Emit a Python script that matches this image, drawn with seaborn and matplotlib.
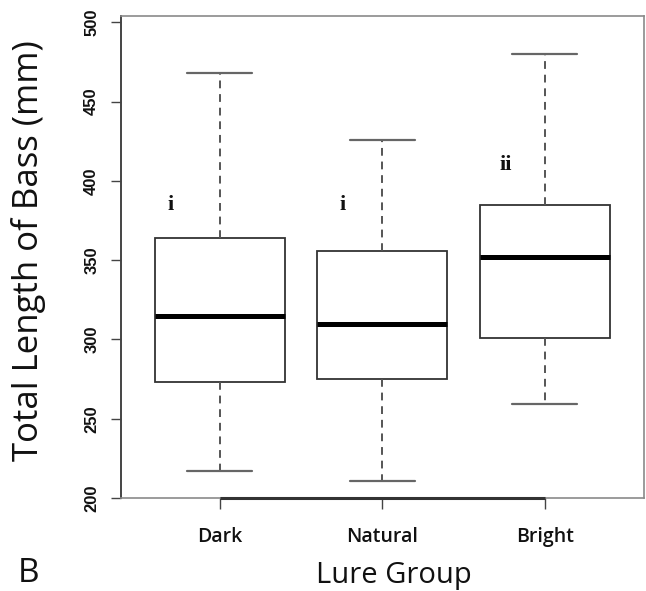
import matplotlib
matplotlib.use("Agg")
import matplotlib.pyplot as plt
import seaborn as sns
import pandas as pd

# ---- data (five-number summaries) ----
groups = ["Dark", "Natural", "Bright"]
whisker_low = [217, 211, 259]
q1 = [273, 275, 301]
median = [315, 310, 352]
q3 = [364, 356, 385]
whisker_high = [468, 426, 480]
group_letters = ["i", "i", "ii"]
letter_y = [385, 385, 410]
letter_dx = [-0.30, -0.245, -0.24]
yticks = [200, 250, 300, 350, 400, 450, 500]

rows = []
for g, a, b, c, d, e in zip(groups, whisker_low, q1, median, q3, whisker_high):
    for v in (a, b, c, d, e):
        rows.append({"Lure Group": g, "Total Length": v})
df = pd.DataFrame(rows)

sns.set_theme(style="white")
plt.rcParams["font.family"] = ["Open Sans", "DejaVu Sans"]
plt.rcParams["text.color"] = "#111111"
plt.rcParams["axes.labelcolor"] = "#111111"
plt.rcParams["xtick.color"] = "#111111"
plt.rcParams["ytick.color"] = "#111111"

W, H = 646, 591
fig = plt.figure(figsize=(W / 100, H / 100), dpi=100)
ax = fig.add_axes([120.7 / W, 1 - 498 / H, (644 - 120.7) / W, (498 - 16) / H])

sns.boxplot(
    data=df, x="Lure Group", y="Total Length", order=groups, ax=ax,
    whis=(0, 100), width=0.8, fill=True, color="white",
    linecolor="#333333", linewidth=1.3,
    boxprops=dict(facecolor="white", edgecolor="#333333", linewidth=1.3),
    medianprops=dict(color="black", linewidth=3.6),
    whiskerprops=dict(color="#555555", linewidth=1.4, linestyle=(0, (4, 3))),
    capprops=dict(color="#666666", linewidth=1.6),
    showfliers=False,
)

ax.set_xlim(-0.61, 2.61)
ax.set_ylim(200, 504)
ax.set_yticks(yticks)
ax.set_yticklabels([str(t) for t in yticks], rotation=90, va="center",
                   fontfamily="Liberation Sans", fontweight="bold", fontsize=12)

for lab in ax.get_xticklabels():
    lab.set_fontsize(14)
    lab.set_fontweight("semibold")

ax.tick_params(axis="y", length=7.5, width=1.0, color="#444444", pad=8, left=True)
ax.tick_params(axis="x", length=8, width=1.0, color="#444444", pad=13, bottom=True)

for side in ("top", "right", "bottom"):
    ax.spines[side].set_color("#8a8a8a")
    ax.spines[side].set_linewidth(1.2)
ax.spines["left"].set_color("#444444")
ax.spines["left"].set_linewidth(1.4)

# R-style axis line spanning the first to last group
ax.hlines(ax.get_ylim()[0], 0, len(groups) - 1, colors="#333333",
          linewidth=2.2, clip_on=False, zorder=5)

ax.set_ylabel("Total Length of Bass (mm)", fontsize=25)
ax.yaxis.set_label_coords(-0.142, 0.514)
ax.set_xlabel("Lure Group", fontsize=21)
ax.xaxis.label.set_va("baseline")
ax.xaxis.set_label_coords(0.522, -0.176)

for i, (t, yv, dx) in enumerate(zip(group_letters, letter_y, letter_dx)):
    ax.text(i + dx, yv, t, ha="center", va="center", fontsize=16,
            fontweight="bold", fontfamily="Liberation Serif", color="#111111")

fig.text(18 / W, 1 - 582 / H, "B", fontsize=24, va="baseline", ha="left", color="#111111")

fig.savefig("out.png", dpi=100)
